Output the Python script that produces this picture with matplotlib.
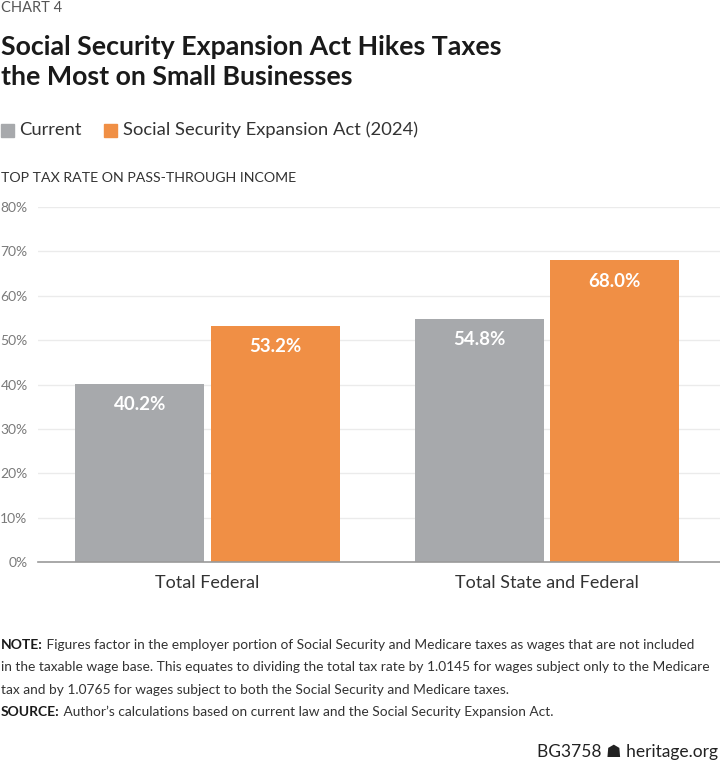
import matplotlib
matplotlib.use('Agg')
import matplotlib.pyplot as plt
import numpy as np

'~~~~~~~~~~ DATA ~~~~~~~~~~'
categories = ['Total Federal', 'Total State and Federal']
current = [40.2, 54.8]
expansion = [53.2, 68.0]
series_names = ['Current', 'Social Security Expansion Act (2024)']
y_ticks = [0, 10, 20, 30, 40, 50, 60, 70, 80]

gray = '#A7A9AC'
orange = '#F08F45'

plt.rcParams['font.family'] = ['Lato', 'DejaVu Sans']

fig = plt.figure(figsize=(7.2, 7.7), dpi=100)
W, H = 720, 770

ax = fig.add_axes([38 / W, 1 - 562 / H, 1 - 38 / W, (562 - 207) / H])

x = np.arange(len(categories))
bw = 0.38
ax.bar(x - 0.2, current, bw, color=gray, zorder=2)
ax.bar(x + 0.2, expansion, bw, color=orange, zorder=2)

# value labels inside the bars
for xi, v in zip(x - 0.2, current):
    ax.text(xi, v - 4.7, f'{v:.1f}%', ha='center', va='center', color='white',
            fontsize=13.5, fontweight='bold', zorder=3)
for xi, v in zip(x + 0.2, expansion):
    ax.text(xi, v - 4.7, f'{v:.1f}%', ha='center', va='center', color='white',
            fontsize=13.5, fontweight='bold', zorder=3)

ax.set_xlim(-0.5, 1.51)
ax.set_ylim(0, 80)
ax.set_yticks(y_ticks)
ax.set_yticklabels([f'{t}%' for t in y_ticks])
ax.yaxis.grid(True, color='#EBEBEB', linewidth=1, zorder=0)
ax.set_xticks(x)
ax.set_xticklabels(categories)
ax.tick_params(axis='x', length=0, pad=9, labelsize=13, labelcolor='#333333')
ax.tick_params(axis='y', length=0, pad=7.5, labelsize=10, labelcolor='#7A7A7A')
for s in ['top', 'right', 'left']:
    ax.spines[s].set_visible(False)
ax.spines['bottom'].set_color('#9A9A9A')
ax.spines['bottom'].set_linewidth(1.2)

'~~~~~~~~~~ TEXT ~~~~~~~~~~'
fig.text(1 / W, 1 - 8 / H, 'CHART 4', fontsize=10.5, color='#555555', va='center')
fig.text(1 / W, 1 - 47 / H, 'Social Security Expansion Act Hikes Taxes',
         fontsize=19.3, fontweight='bold', color='#1A1A1A', va='center')
fig.text(1 / W, 1 - 77 / H, 'the Most on Small Businesses',
         fontsize=19.3, fontweight='bold', color='#1A1A1A', va='center')

# legend
fig.patches.append(plt.Rectangle((1 / W, 1 - 137 / H), 13 / W, 13 / H, color=gray,
                                 transform=fig.transFigure, figure=fig))
fig.text(19 / W, 1 - 130 / H, series_names[0], fontsize=13.2, color='#333333', va='center')
fig.patches.append(plt.Rectangle((104 / W, 1 - 137 / H), 13 / W, 13 / H, color=orange,
                                 transform=fig.transFigure, figure=fig))
fig.text(123 / W, 1 - 130 / H, series_names[1], fontsize=13.2, color='#333333', va='center')

fig.text(1 / W, 1 - 178 / H, 'TOP TAX RATE ON PASS-THROUGH INCOME',
         fontsize=10.2, color='#333333', va='center')

lines = [
    ('NOTE:', ' Figures factor in the employer portion of Social Security and Medicare taxes as wages that are not included'),
    ('', 'in the taxable wage base. This equates to dividing the total tax rate by 1.0145 for wages subject only to the Medicare'),
    ('', 'tax and by 1.0765 for wages subject to both the Social Security and Medicare taxes.'),
    ('SOURCE:', ' Author\u2019s calculations based on current law and the Social Security Expansion Act.'),
]
ys = [645, 667, 690, 712]
r = fig.canvas.get_renderer()
for (bold, rest), yy in zip(lines, ys):
    x0 = 1 / W
    if bold:
        t = fig.text(x0, 1 - yy / H, bold, fontsize=10, fontweight='bold', color='#1A1A1A',
                     va='center')
        bb = t.get_window_extent(renderer=r)
        x0 = bb.x1 / W
    fig.text(x0, 1 - yy / H, rest, fontsize=9.9, color='#333333', va='center')

fig.text(718 / W, 1 - 752 / H, 'BG3758 \u2617 heritage.org', fontsize=12.5,
         color='#222222', ha='right', va='center')

fig.savefig('out.png', dpi=100)
